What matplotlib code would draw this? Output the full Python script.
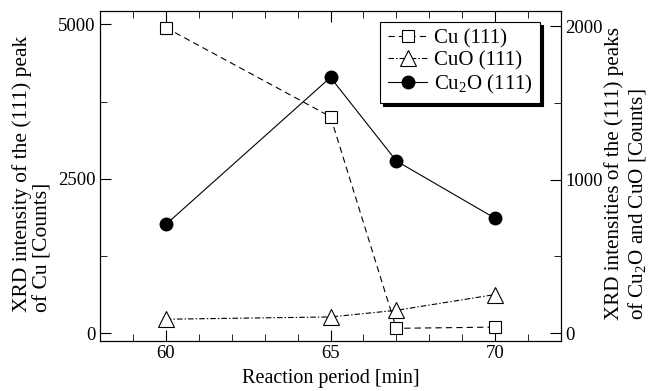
import matplotlib
matplotlib.use("Agg")
import matplotlib.pyplot as plt
from matplotlib.ticker import MultipleLocator

plt.rcParams["font.family"] = ["Liberation Serif", "DejaVu Serif"]
plt.rcParams["mathtext.fontset"] = "custom"
plt.rcParams["mathtext.rm"] = "Liberation Serif"
plt.rcParams["mathtext.it"] = "Liberation Serif:italic"
plt.rcParams["lines.scale_dashes"] = False

# reaction period [min]
period = [60, 65, 67, 70]
# (111) peak intensities [counts]
cu = [4945, 3505, 80, 100]         # left axis
cuo = [90, 105, 148, 251]          # right axis
cu2o = [708, 1667, 1122, 748]      # right axis

W, H = 648, 391
fig = plt.figure(figsize=(W / 100, H / 100), dpi=100)
ax = fig.add_axes([100 / W, 50 / H, 461 / W, 330 / H])
ax2 = ax.twinx()

l1, = ax.plot(period, cu, color="k", lw=0.8, dashes=(4.5, 3),
              marker="s", ms=9, mfc="white", mec="k", mew=0.8, label="Cu (111)")
l2, = ax2.plot(period, cuo, color="k", lw=0.8, dashes=(4, 1.5, 1, 1.5),
               marker="^", ms=11, mfc="white", mec="k", mew=0.8, label="CuO (111)")
l3, = ax2.plot(period, cu2o, color="k", lw=0.8, ls="-",
               marker="o", ms=9, mfc="k", mec="k", label="Cu$_{\\mathrm{2}}$O (111)")

ax.set_xlim(58, 72)
ax.set_ylim(-125, 5215)
ax2.set_ylim(-52, 2100)

ax.xaxis.set_major_locator(MultipleLocator(5))
ax.xaxis.set_minor_locator(MultipleLocator(1))
ax.yaxis.set_major_locator(MultipleLocator(2500))
ax.yaxis.set_minor_locator(MultipleLocator(1250))
ax2.yaxis.set_major_locator(MultipleLocator(1000))
ax2.yaxis.set_minor_locator(MultipleLocator(500))

ax.tick_params(axis="both", which="both", direction="in", top=True, right=False,
               labelsize=13.5, pad=3)
ax.tick_params(which="major", length=8)
ax.tick_params(which="minor", length=5)
ax2.tick_params(axis="y", which="both", direction="in", labelsize=13.5, pad=3)
ax2.tick_params(which="major", length=8)
ax2.tick_params(which="minor", length=5)

ax.set_xlabel("Reaction period [min]", fontsize=14.5, labelpad=5)

# y labels placed by hand, lines start at the bottom like the original
fig.text(32 / W, 1 - 312 / H, "XRD intensity of the (111) peak\nof Cu [Counts]",
         fontsize=15.5, rotation=90, ha="center", va="bottom",
         multialignment="left", linespacing=1.1)
fig.text(626 / W, 1 - 320 / H,
         "XRD intensities of the (111) peaks\nof Cu$_{\\mathrm{2}}$O and CuO [Counts]",
         fontsize=15.2, rotation=90, ha="center", va="bottom",
         multialignment="left", linespacing=1.1)

leg = ax2.legend(handles=[l1, l2, l3], loc="upper right",
                 bbox_to_anchor=(0.954, 0.967), borderaxespad=0,
                 fontsize=15, fancybox=False, edgecolor="k", framealpha=1,
                 shadow={"color": "k", "alpha": 1}, handlelength=1.9,
                 labelspacing=0.1, borderpad=0.35, handletextpad=0.3)
leg.get_frame().set_linewidth(0.8)

fig.savefig("out.png", dpi=100)
